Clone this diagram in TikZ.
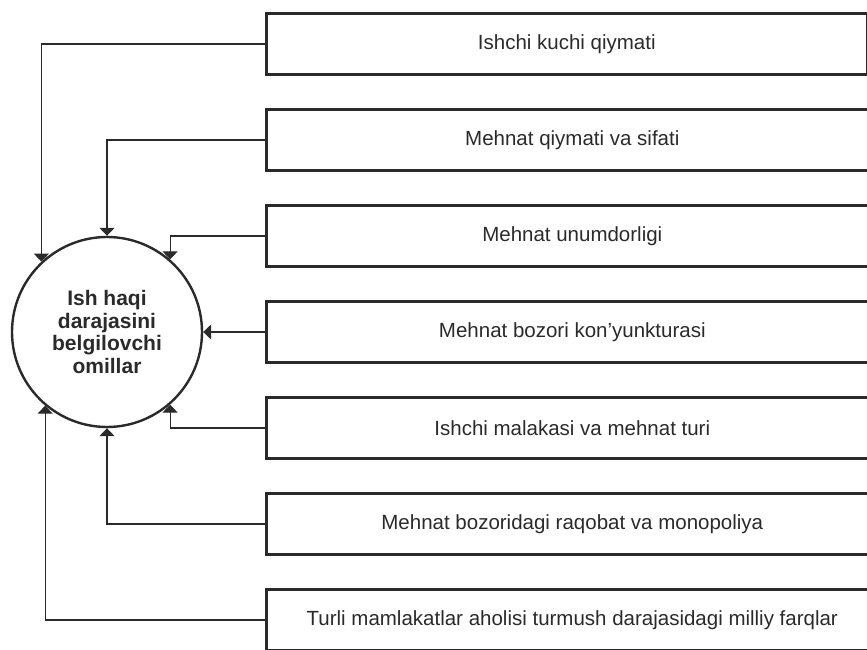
\documentclass[tikz,border=0pt]{standalone}
\usepackage{fontspec}
\setmainfont{Liberation Sans}
\usetikzlibrary{arrows.meta}
\definecolor{ink}{HTML}{2A2A2A}
\tikzset{
  factor/.style={draw=ink, line width=2.6pt, anchor=west, minimum height=61pt,
    minimum width=612pt, text=ink, font=\fontsize{20.5}{24}\selectfont},
  link/.style={draw=ink, line width=1.1pt, -{Triangle[length=8pt,width=15pt]}},
}
\begin{document}
\begin{tikzpicture}[x=1pt,y=1pt]
  \useasboundingbox (0,0) rectangle (867,650);
  \node[circle,draw=ink,line width=2.4pt,minimum size=190pt,align=center,text=ink,
    font=\bfseries\fontsize{21}{22.5}\selectfont] (omil) at (107,318)
    {Ish haqi\\darajasini\\belgilovchi\\omillar};
  \node[factor,minimum width=601pt] (f1) at (265,606) {Ishchi kuchi qiymati};
  \node[factor] (f2) at (265,510) {Mehnat qiymati va sifati};
  \node[factor] (f3) at (265,414) {Mehnat unumdorligi};
  \node[factor] (f4) at (265,318) {Mehnat bozori kon'yunkturasi};
  \node[factor] (f5) at (265,222) {Ishchi malakasi va mehnat turi};
  \node[factor] (f6) at (265,126) {Mehnat bozoridagi raqobat va monopoliya};
  \node[factor] (f7) at (265,30) {Turli mamlakatlar aholisi turmush darajasidagi milliy farqlar};
  \draw[link] (f1.west) -| (omil.133);
  \draw[link] (f2.west) -| (omil.north);
  \draw[link] (f3.west) -| (omil.49);
  \draw[link] (f4.west) -- (omil.east);
  \draw[link] (f5.west) -| (omil.-49);
  \draw[link] (f6.west) -| (omil.south);
  \draw[link] (f7.west) -| (omil.-130);
\end{tikzpicture}
\end{document}
